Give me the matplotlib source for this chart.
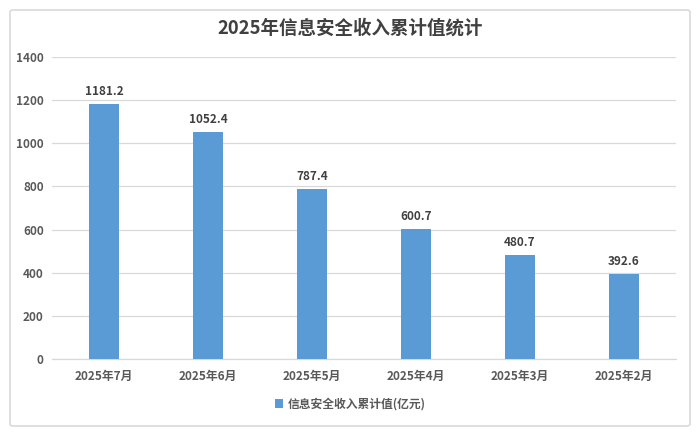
import matplotlib
matplotlib.use("Agg")
import matplotlib.pyplot as plt
from matplotlib.patches import FancyBboxPatch

plt.rcParams['font.family'] = ['Noto Sans CJK SC', 'DejaVu Sans']

categories = ["2025年7月", "2025年6月", "2025年5月", "2025年4月", "2025年3月", "2025年2月"]
values = [1181.2, 1052.4, 787.4, 600.7, 480.7, 392.6]
yticks = [0, 200, 400, 600, 800, 1000, 1200, 1400]
title = "2025年信息安全收入累计值统计"
series_name = "信息安全收入累计值(亿元)"

bar_color = "#5B9BD5"
text_color = "#595959"

fig = plt.figure(figsize=(7, 4.32), dpi=100)
border = FancyBboxPatch((10/700, 6/432), 680/700, 416/432, boxstyle="round,pad=0,rounding_size=0.005",
                        transform=fig.transFigure, fill=False, edgecolor="#D9D9D9", linewidth=1.2)
fig.patches.append(border)

ax = fig.add_axes([52/700, 1 - 359/432, 624/700, (359 - 57)/432])
x = list(range(len(categories)))
bars = ax.bar(x, values, width=0.29, color=bar_color, zorder=3)
for xi, v in zip(x, values):
    ax.text(xi, v + 30, f"{v:.1f}", ha="center", va="bottom", fontsize=8.5,
            fontweight="bold", color="#404040")

ax.set_xlim(-0.5, len(categories) - 0.5)
ax.set_ylim(0, 1400)
ax.set_yticks(yticks)
ax.set_xticks(x)
ax.set_xticklabels(categories)
ax.tick_params(axis="both", length=0, labelsize=8.5, labelcolor=text_color)
ax.tick_params(axis="x", pad=8)
ax.tick_params(axis="y", pad=6)
for lab in ax.get_xticklabels() + ax.get_yticklabels():
    lab.set_fontweight("bold")
ax.grid(axis="y", color="#D9D9D9", linewidth=0.9, zorder=0)
for s in ["top", "right", "left"]:
    ax.spines[s].set_visible(False)
ax.spines["bottom"].set_color("#D9D9D9")
ax.spines["bottom"].set_linewidth(0.9)

fig.text(0.5, 1 - 28/432, title, ha="center", va="center", fontsize=13.3,
         fontweight="bold", color="#404040")

leg = fig.legend([bars], [series_name], loc="center", bbox_to_anchor=(0.5, 1 - 404/432),
                 frameon=False, fontsize=8.5, handlelength=0.7, handleheight=0.7,
                 handletextpad=0.4)
for t in leg.get_texts():
    t.set_color(text_color)
    t.set_fontweight("bold")

fig.savefig("out.png", dpi=100)
